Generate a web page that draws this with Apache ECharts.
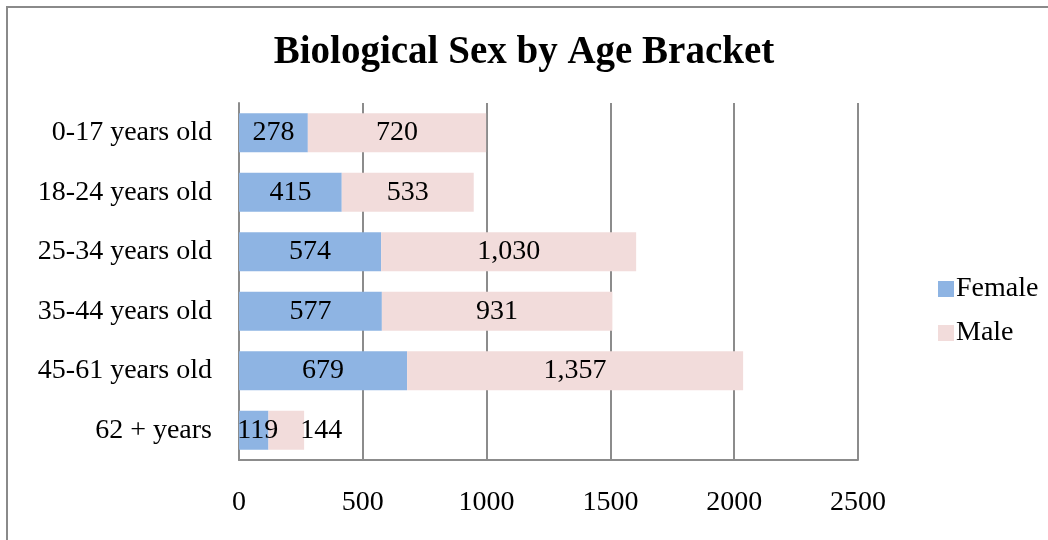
<!DOCTYPE html>
<html>
<head>
<meta charset="utf-8">
<script src="https://cdn.jsdelivr.net/npm/echarts@6/dist/echarts.min.js"></script>
<style>html,body{margin:0;padding:0;background:#fff}#c{width:1048px;height:540px}</style>
</head>
<body>
<div id="c"></div>
<script>
const categories = ['0-17 years old','18-24 years old','25-34 years old','35-44 years old','45-61 years old','62 + years'];
const female = [278, 415, 574, 577, 679, 119];
const male = [720, 533, 1030, 931, 1357, 144];
const xTicks = [0, 500, 1000, 1500, 2000, 2500];

const FONT = 'Liberation Serif';
const FS = 28;
const fmt = v => Number(v).toLocaleString('en-US');

// label nudges for the crowded last bar (as Excel shifts them)
const femaleData = female.map((v, i) => i === 5 ? {value: v, label: {offset: [4, 0]}} : v);
const maleData = male.map((v, i) => i === 5 ? {value: v, label: {offset: [35, 0]}} : v);

const chart = echarts.init(document.getElementById('c'), null, {renderer: 'canvas'});
chart.setOption({
  animation: false,
  backgroundColor: '#fff',
  textStyle: {fontFamily: FONT},
  graphic: [{
    type: 'rect', silent: true,
    shape: {x: 7, y: 7, width: 1100, height: 600},
    style: {fill: 'none', stroke: '#8a8a8a', lineWidth: 2}
  }],
  title: {
    text: 'Biological Sex by Age Bracket',
    left: 'center', top: 28,
    textStyle: {fontFamily: FONT, fontWeight: 'bold', fontSize: 39, color: '#000'}
  },
  legend: {
    orient: 'vertical', left: 933, top: 270,
    itemWidth: 16, itemHeight: 16, itemGap: 16,
    icon: 'rect',
    textStyle: {fontFamily: FONT, fontSize: FS, color: '#000', lineHeight: 28, padding: [0, 0, 0, -3]},
    data: ['Female', 'Male']
  },
  grid: {left: 239, right: 190, top: 103, bottom: 80, containLabel: false},
  xAxis: {
    type: 'value', min: xTicks[0], max: xTicks[xTicks.length - 1], interval: 500,
    axisLine: {show: true, lineStyle: {color: '#8c8c8c', width: 2}},
    axisTick: {show: false},
    splitLine: {show: true, lineStyle: {color: '#8c8c8c', width: 2}},
    axisLabel: {fontFamily: FONT, fontSize: FS, color: '#000', margin: 29, formatter: v => String(v)}
  },
  yAxis: {
    type: 'category', data: categories, inverse: true,
    axisLine: {show: true, lineStyle: {color: '#8c8c8c', width: 2}},
    axisTick: {show: false},
    axisLabel: {fontFamily: FONT, fontSize: FS, color: '#000', margin: 27}
  },
  series: [
    {
      name: 'Female', type: 'bar', stack: 'total', data: femaleData, barWidth: 39,
      itemStyle: {color: '#8EB4E3'},
      label: {show: true, position: 'inside', fontFamily: FONT, fontSize: FS, color: '#000', formatter: p => fmt(p.value)}
    },
    {
      name: 'Male', type: 'bar', stack: 'total', data: maleData, barWidth: 39,
      itemStyle: {color: '#F2DCDB'},
      label: {show: true, position: 'inside', fontFamily: FONT, fontSize: FS, color: '#000', formatter: p => fmt(p.value)}
    }
  ]
});
</script>
</body>
</html>
